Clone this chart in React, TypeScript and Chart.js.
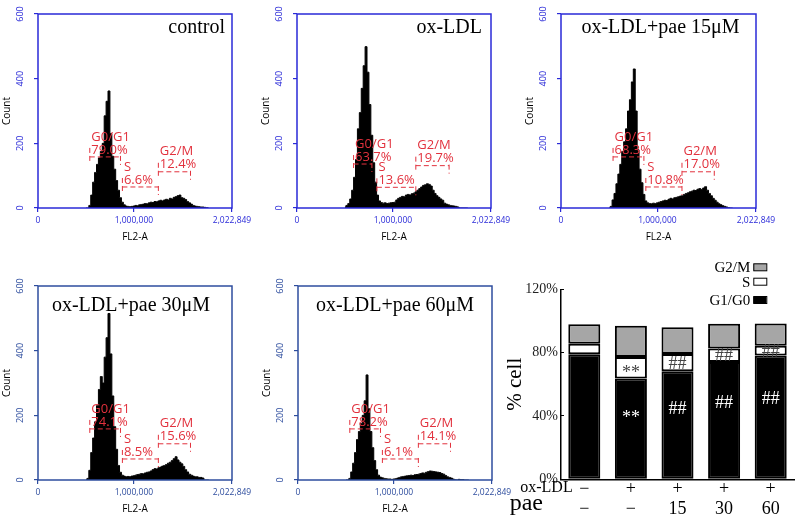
import React, { useEffect, useRef } from 'react';
import { Chart, registerables } from 'chart.js';

Chart.register(...registerables);

const SERIF = '"Liberation Serif", "Times New Roman", Times, serif';
const SANS = '"Open Sans", "Liberation Sans", sans-serif';
const RED = '#e2313d';
const TOP_BLUE = '#2a2ad8';
const BOTTOM_BLUE = '#2e4d9e';

// ---------- histogram data (FL2-A bins, count per bin) ----------
const BIN_START = 500000;
const BIN_WIDTH = 20000;
const FL2_MAX = 2022849;
const fl2Ticks = [0, 1000000, 2022849];
const COUNT_MAX = 600;
const COUNT_STEP = 200;

const countsControl = [
  0, 0, 8, 40, 80, 110, 135, 155, 175, 200,
  285, 330, 362, 230, 160, 120, 85, 55, 32, 18,
  10, 6, 5, 4, 5, 6, 8, 7, 10, 11,
  12, 14, 13, 16, 18, 17, 20, 19, 22, 24,
  22, 25, 27, 25, 30, 28, 33, 35, 38, 40,
  32, 30, 26, 20, 16, 12, 8, 6, 5, 4,
  3, 3, 2, 1, 0,
];
const countsOxLDL = [
  3, 8, 14, 28, 55, 95, 150, 245, 295, 370,
  440, 499, 420, 320, 225, 140, 80, 40, 22, 17,
  15, 16, 14, 15, 16, 17, 18, 25, 30, 33,
  36, 35, 40, 42, 40, 44, 46, 50, 55, 60,
  65, 70, 72, 75, 73, 68, 55, 45, 38, 33,
  28, 24, 15, 12, 10, 8, 7, 6, 5, 3,
  0, 0, 0, 0, 0,
];
const countsPae15 = [
  0, 5, 25, 45, 75, 105, 135, 175, 205, 245,
  300, 335, 390, 430, 300, 180, 120, 78, 42, 22,
  16, 14, 13, 15, 14, 16, 18, 20, 22, 24,
  23, 27, 30, 28, 32, 33, 35, 37, 38, 42,
  45, 47, 50, 52, 55, 54, 58, 60, 57, 62,
  66, 55, 45, 38, 30, 24, 18, 13, 10, 7,
  5, 3, 1, 0, 0,
];
const countsPae30 = [
  0, 5, 30, 85, 130, 180, 230, 280, 320, 300,
  380, 440, 515, 390, 260, 165, 95, 45, 24, 15,
  12, 10, 11, 10, 12, 13, 15, 17, 18, 20,
  19, 22, 24, 25, 28, 32, 35, 34, 38, 40,
  43, 45, 48, 52, 55, 60, 66, 72, 62, 55,
  50, 42, 32, 25, 18, 15, 12, 10, 10, 8,
  8, 6, 0, 0, 0,
];
const countsPae60 = [
  0, 0, 5, 25, 52, 85, 125, 150, 175, 200,
  245, 325, 220, 150, 100, 60, 32, 15, 9, 7,
  5, 4, 3, 3, 2, 3, 4, 6, 8, 10,
  11, 12, 13, 14, 15, 14, 16, 17, 18, 20,
  22, 21, 24, 26, 28, 27, 26, 25, 24, 23,
  20, 18, 14, 10, 8, 6, 3, 1, 0, 2,
  1, 1, 0, 0, 0,
];

const panelTitles = ['control', 'ox-LDL', 'ox-LDL+pae 15μM', 'ox-LDL+pae 30μM', 'ox-LDL+pae 60μM'];
const gateNames = ['G0/G1', 'S', 'G2/M'];
// [from FL2-A, to FL2-A, count level]
const gatesStd = [[540000, 860000, 158], [880000, 1255000, 65], [1255000, 1590000, 112]];
const gatesOxLDL = [[590000, 781000, 136], [833000, 1239000, 64], [1239000, 1586000, 131]];

// ---------- cell-cycle percentages (also the stacked bars) ----------
const g1Pct = [79.0, 63.7, 68.3, 74.1, 78.2];
const sPct = [6.6, 13.6, 10.8, 8.5, 6.1];
const g2mPct = [12.4, 19.7, 17.0, 15.6, 14.1];
const oxLDLRow = ['−', '+', '+', '+', '+'];
const paeRow = ['−', '−', '15', '30', '60'];
const sigS = ['', '**', '##', '##', '##'];
const sigG1 = ['', '**', '##', '##', '##'];
const PCT_MAX = 120;
const PCT_STEP = 40;

const pctSeries = [g1Pct, sPct, g2mPct];

type Panel = {
  counts: number[];
  idx: number;
  gates: number[][];
  color: string;
  left: number;
  top: number;
  w: number;
  titleAlign: 'left' | 'right' | 'center';
  titleDx: number;
  titleDy: number;
};

const panels: Panel[] = [
  { counts: countsControl, idx: 0, gates: gatesStd, color: TOP_BLUE, left: 38, top: 14, w: 194, titleAlign: 'right', titleDx: -7, titleDy: 19 },
  { counts: countsOxLDL, idx: 1, gates: gatesOxLDL, color: TOP_BLUE, left: 297, top: 14, w: 194, titleAlign: 'right', titleDx: -9, titleDy: 19 },
  { counts: countsPae15, idx: 2, gates: gatesStd, color: TOP_BLUE, left: 561, top: 14, w: 195, titleAlign: 'center', titleDx: 2, titleDy: 19 },
  { counts: countsPae30, idx: 3, gates: gatesStd, color: BOTTOM_BLUE, left: 38, top: 286, w: 194, titleAlign: 'center', titleDx: -4, titleDy: 24.5 },
  { counts: countsPae60, idx: 4, gates: gatesStd, color: BOTTOM_BLUE, left: 298, top: 286, w: 194, titleAlign: 'center', titleDx: 0, titleDy: 24.5 },
];

const Y_AXIS_W = 38;
const PAD_TOP = 14;
const PLOT_H = 194;
const X_AXIS_H = 37;
const PAD_RIGHT = 30;

function Histogram({ p }: { p: Panel }) {
  const ref = useRef<HTMLCanvasElement>(null);
  const W = Y_AXIS_W + p.w + PAD_RIGHT;
  const H = PAD_TOP + PLOT_H + X_AXIS_H;

  useEffect(() => {
    const decor = {
      id: 'histDecor',
      afterDraw(chart: any) {
        const { ctx, chartArea: a, scales } = chart;
        const x = scales.x;
        const y = scales.y;
        ctx.save();
        // frame
        ctx.strokeStyle = p.color;
        ctx.lineWidth = 1.5;
        ctx.strokeRect(a.left, a.top, a.right - a.left, a.bottom - a.top);
        // title
        ctx.fillStyle = '#000';
        ctx.font = '20px ' + SERIF;
        ctx.textBaseline = 'alphabetic';
        ctx.textAlign = p.titleAlign;
        let tx = (a.left + a.right) / 2;
        if (p.titleAlign === 'right') tx = a.right;
        if (p.titleAlign === 'left') tx = a.left;
        ctx.fillText(panelTitles[p.idx], tx + p.titleDx, a.top + p.titleDy);
        // gates
        ctx.strokeStyle = RED;
        ctx.fillStyle = RED;
        ctx.lineWidth = 1;
        ctx.setLineDash([5, 3]);
        ctx.font = '13px ' + SANS;
        ctx.textAlign = 'left';
        ctx.textBaseline = 'middle';
        p.gates.forEach((g, i) => {
          const x0 = x.getPixelForValue(g[0]);
          const x1 = x.getPixelForValue(g[1]);
          const py = y.getPixelForValue(g[2]);
          ctx.beginPath();
          ctx.moveTo(x0, py);
          ctx.lineTo(x1, py);
          ctx.moveTo(x0, py - 9);
          ctx.lineTo(x0, py + 7);
          ctx.moveTo(x1, py - 1);
          ctx.lineTo(x1, py + 8);
          ctx.stroke();
          ctx.fillText(gateNames[i], x0 + 1.5, py - 20);
          ctx.fillText(pctSeries[i][p.idx].toFixed(1) + '%', x0 + 1.5, py - 7);
        });
        ctx.restore();
      },
    };

    const chart = new Chart(ref.current as HTMLCanvasElement, {
      type: 'line',
      data: {
        datasets: [
          {
            data: p.counts.map((c, i) => ({ x: BIN_START + i * BIN_WIDTH, y: c })),
            fill: 'origin',
            backgroundColor: '#000',
            borderColor: '#000',
            borderWidth: 1,
            pointRadius: 0,
            stepped: 'middle',
          } as any,
        ],
      },
      options: {
        responsive: false,
        animation: false,
        events: [],
        layout: { padding: { top: PAD_TOP, right: PAD_RIGHT, left: 0, bottom: 0 } },
        plugins: { legend: { display: false }, tooltip: { enabled: false } },
        scales: {
          x: {
            type: 'linear',
            min: 0,
            max: FL2_MAX,
            afterBuildTicks: (s: any) => {
              s.ticks = fl2Ticks.map((v) => ({ value: v }));
            },
            afterFit: (s: any) => {
              s.height = X_AXIS_H;
            },
            ticks: {
              color: p.color,
              font: { family: SANS, size: 8.5 },
              padding: 3,
              autoSkip: false,
              maxRotation: 0,
              callback: (v: any) => Number(v).toLocaleString('en-US'),
            },
            grid: { display: true, drawOnChartArea: false, drawTicks: true, tickLength: 4, color: p.color, lineWidth: 1.2 },
            border: { display: false },
            title: { display: true, text: 'FL2-A', color: '#000', font: { family: SANS, size: 10 }, padding: { top: 0, bottom: 2 } },
          },
          y: {
            min: 0,
            max: COUNT_MAX,
            afterFit: (s: any) => {
              s.width = Y_AXIS_W;
            },
            ticks: {
              stepSize: COUNT_STEP,
              color: p.color,
              font: { family: SANS, size: 9 },
              minRotation: 90,
              maxRotation: 90,
              crossAlign: 'center',
              padding: 6,
            },
            grid: { display: true, drawOnChartArea: false, drawTicks: true, tickLength: 4, color: p.color, lineWidth: 1.2 },
            border: { display: false },
            title: { display: true, text: 'Count', color: '#000', font: { family: SANS, size: 10 }, padding: { top: 1, bottom: 0 } },
          },
        },
      } as any,
      plugins: [decor],
    });
    return () => chart.destroy();
  }, []);

  return (
    <canvas
      ref={ref}
      width={W}
      height={H}
      style={{ position: 'absolute', left: p.left - Y_AXIS_W, top: p.top - PAD_TOP, width: W, height: H }}
    />
  );
}

function BarPanel() {
  const ref = useRef<HTMLCanvasElement>(null);
  const W = 300;
  const H = 274;
  useEffect(() => {
    const decor = {
      id: 'barDecor',
      afterDraw(chart: any) {
        const { ctx, chartArea: a, scales } = chart;
        const x = scales.x;
        const y = scales.y;
        ctx.save();
        // significance marks
        const fs = 18;
        ctx.font = fs + 'px ' + SERIF;
        ctx.textAlign = 'center';
        ctx.textBaseline = 'alphabetic';
        const drawSig = (txt: string, cx: number, v: number, color: string) => {
          if (!txt) return;
          const off = txt.includes('*') ? 0.55 * fs : 0.33 * fs;
          ctx.fillStyle = color;
          ctx.fillText(txt, cx, y.getPixelForValue(v) + off);
        };
        g1Pct.forEach((g, i) => {
          const cx = x.getPixelForValue(i);
          drawSig(sigS[i], cx, g + sPct[i] / 2, '#444');
          drawSig(sigG1[i], cx, g * 0.66, '#fff');
        });
        // row headers
        ctx.fillStyle = '#000';
        ctx.textAlign = 'right';
        ctx.font = '16px ' + SERIF;
        ctx.fillText('ox-LDL', a.left + 11.7, a.bottom + 12.4);
        ctx.font = '24px ' + SERIF;
        ctx.fillText('pae', a.left - 18, a.bottom + 30.7);
        // legend
        const ds = chart.data.datasets.slice().reverse();
        const rowOffsets = [-22, -7.6, 10.7];
        const boxL = a.right - 40.7;
        ctx.font = '15px ' + SERIF;
        ctx.textBaseline = 'middle';
        ds.forEach((d: any, i: number) => {
          const cy = a.top + rowOffsets[i];
          ctx.fillStyle = '#000';
          ctx.textAlign = 'right';
          ctx.fillText(d.label, boxL - 3, cy + 1);
          ctx.fillStyle = d.backgroundColor;
          ctx.fillRect(boxL, cy - 3.5, 13, 7);
          ctx.strokeStyle = '#000';
          ctx.lineWidth = 1;
          ctx.strokeRect(boxL + 0.5, cy - 3.5, 13, 7);
        });
        ctx.restore();
      },
    };

    const chart = new Chart(ref.current as HTMLCanvasElement, {
      type: 'bar',
      data: {
        labels: oxLDLRow.map((a, i) => [a, paeRow[i]]),
        datasets: [
          { label: 'G1/G0', data: g1Pct, backgroundColor: '#000', borderColor: '#000', borderWidth: 2, borderSkipped: false },
          { label: 'S', data: sPct, backgroundColor: '#fff', borderColor: '#000', borderWidth: 2, borderSkipped: false },
          { label: 'G2/M', data: g2mPct, backgroundColor: '#a6a6a6', borderColor: '#000', borderWidth: 2, borderSkipped: false },
        ] as any,
      },
      options: {
        responsive: false,
        animation: false,
        events: [],
        layout: { padding: { top: 39.3, right: 6, left: 0, bottom: 0 } },
        datasets: { bar: { barPercentage: 0.687, categoryPercentage: 1 } },
        plugins: { legend: { display: false }, tooltip: { enabled: false } },
        scales: {
          x: {
            stacked: true,
            afterFit: (s: any) => {
              s.height = 44.7;
            },
            ticks: {
              color: '#000',
              font: { family: SERIF, size: 18, lineHeight: 20 / 18 },
              padding: -8,
              maxRotation: 0,
              autoSkip: false,
            },
            grid: { display: false },
            border: { display: true, color: '#000', width: 1.5 },
          },
          y: {
            stacked: true,
            min: 0,
            max: PCT_MAX,
            afterFit: (s: any) => {
              s.width = 61;
            },
            ticks: {
              stepSize: PCT_STEP,
              color: '#222',
              font: { family: SERIF, size: 14 },
              padding: 6,
              callback: (v: any) => v + '%',
            },
            grid: { display: true, drawOnChartArea: false, drawTicks: true, tickLength: -3, color: '#000' },
            border: { display: true, color: '#000', width: 1.5 },
            title: { display: true, text: '% cell', color: '#000', font: { family: SERIF, size: 21 }, padding: { top: 2.4, bottom: 0 } },
          },
        },
      } as any,
      plugins: [decor],
    });
    return () => chart.destroy();
  }, []);
  return <canvas ref={ref} width={W} height={H} style={{ position: 'absolute', left: 500, top: 250, width: W, height: H }} />;
}

export default function App() {
  return (
    <div style={{ position: 'absolute', left: 0, top: 0, width: 800, height: 524, background: '#fff', overflow: 'hidden' }}>
      {panels.map((p) => (
        <Histogram key={p.idx} p={p} />
      ))}
      <BarPanel />
    </div>
  );
}
